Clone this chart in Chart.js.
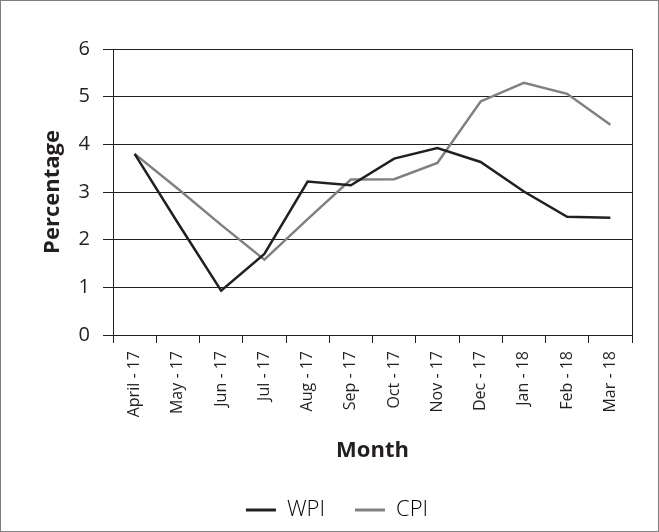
<!DOCTYPE html>
<html>
<head>
<meta charset="utf-8">
<script src="https://cdn.jsdelivr.net/npm/chart.js@4"></script>
<style>
  html, body { margin: 0; padding: 0; background: #fff; }
</style>
</head>
<body>
<canvas id="grafica" width="659" height="532"></canvas>
<script>
// WPI vs CPI inflation, monthly

const months = ["April - 17", "May - 17", "Jun - 17", "Jul - 17", "Aug - 17", "Sep - 17",
                "Oct - 17", "Nov - 17", "Dec - 17", "Jan - 18", "Feb - 18", "Mar - 18"];
const wpi = [3.80, 2.35, 0.93, 1.70, 3.22, 3.14, 3.70, 3.92, 3.63, 3.01, 2.48, 2.46];
const cpi = [3.80, 3.07, 2.31, 1.58, 2.43, 3.26, 3.27, 3.61, 4.90, 5.29, 5.06, 4.41];
const yTicks = [0, 1, 2, 3, 4, 5, 6];

const fontName = "'Open Sans', 'Noto Sans', sans-serif";

// frame: outer border + right edge of plot area
const framePlugin = {
    id: "frame",
    afterDraw(chart) {
        const c = chart.ctx;
        const a = chart.chartArea;
        c.save();
        c.strokeStyle = "#7f7f7f";
        c.lineWidth = 1;
        c.strokeRect(0.5, 0.5, chart.width - 1, chart.height - 1);
        c.strokeStyle = "#231f20";
        c.beginPath();
        c.moveTo(Math.round(a.right) + 0.5, a.top);
        c.lineTo(Math.round(a.right) + 0.5, a.bottom);
        c.stroke();
        c.restore();
    }
};

let ctx = document.getElementById("grafica");
let myChart = new Chart(ctx, {
    type: "line",
    data: {
        labels: months,
        datasets: [{
            label: "WPI",
            data: wpi,
            borderColor: "#231f20",
            backgroundColor: "#231f20",
            borderWidth: 2.5,
            pointRadius: 0,
            tension: 0
        }, {
            label: "CPI",
            data: cpi,
            borderColor: "#808080",
            backgroundColor: "#808080",
            borderWidth: 2.5,
            pointRadius: 0,
            tension: 0
        }]
    },
    options: {
        responsive: false,
        animation: false,
        devicePixelRatio: 1,
        layout: { padding: { top: 49, right: 0, left: 15, bottom: 1 } },
        plugins: {
            legend: {
                position: "bottom",
                labels: {
                    font: { family: fontName, size: 22, weight: "300" },
                    color: "#231f20",
                    boxWidth: 30,
                    boxHeight: 3,
                    padding: 30,
                    generateLabels(chart) {
                        return chart.data.datasets.map((ds, i) => ({
                            text: ds.label,
                            fillStyle: ds.borderColor,
                            strokeStyle: ds.borderColor,
                            lineWidth: 0,
                            datasetIndex: i
                        }));
                    }
                }
            },
            tooltip: { enabled: false }
        },
        scales: {
            x: {
                offset: true,
                grid: {
                    offset: true,
                    drawOnChartArea: false,
                    drawTicks: true,
                    tickLength: 8,
                    color: "#231f20"
                },
                border: { color: "#231f20", width: 1 },
                ticks: {
                    minRotation: 90,
                    maxRotation: 90,
                    autoSkip: false,
                    padding: 8,
                    color: "#231f20",
                    font: { family: fontName, size: 16 }
                },
                title: {
                    display: true,
                    text: "Month",
                    color: "#231f20",
                    font: { family: fontName, size: 22, weight: "bold" },
                    padding: { top: 0, bottom: 5 }
                },
                afterFit(scale) { scale.height = 134; }
            },
            y: {
                min: 0,
                max: 6,
                afterBuildTicks(scale) {
                    scale.ticks = yTicks.map(v => ({ value: v }));
                },
                grid: {
                    color: "#231f20",
                    lineWidth: 1,
                    tickLength: 10
                },
                border: { color: "#231f20", width: 1 },
                ticks: {
                    padding: 13,
                    color: "#231f20",
                    font: { family: fontName, size: 20 }
                },
                title: {
                    display: true,
                    text: "Percentage",
                    color: "#231f20",
                    font: { family: fontName, size: 22, weight: "bold" },
                    padding: { top: 25, bottom: 0 }
                },
                afterFit(scale) { scale.width = 98; }
            },
            // empty right margin
            yRight: {
                position: "right",
                display: true,
                grid: { display: false },
                border: { display: false },
                ticks: { display: false },
                afterFit(scale) { scale.width = 27; }
            }
        }
    },
    plugins: [framePlugin]
});
</script>
</body>
</html>
